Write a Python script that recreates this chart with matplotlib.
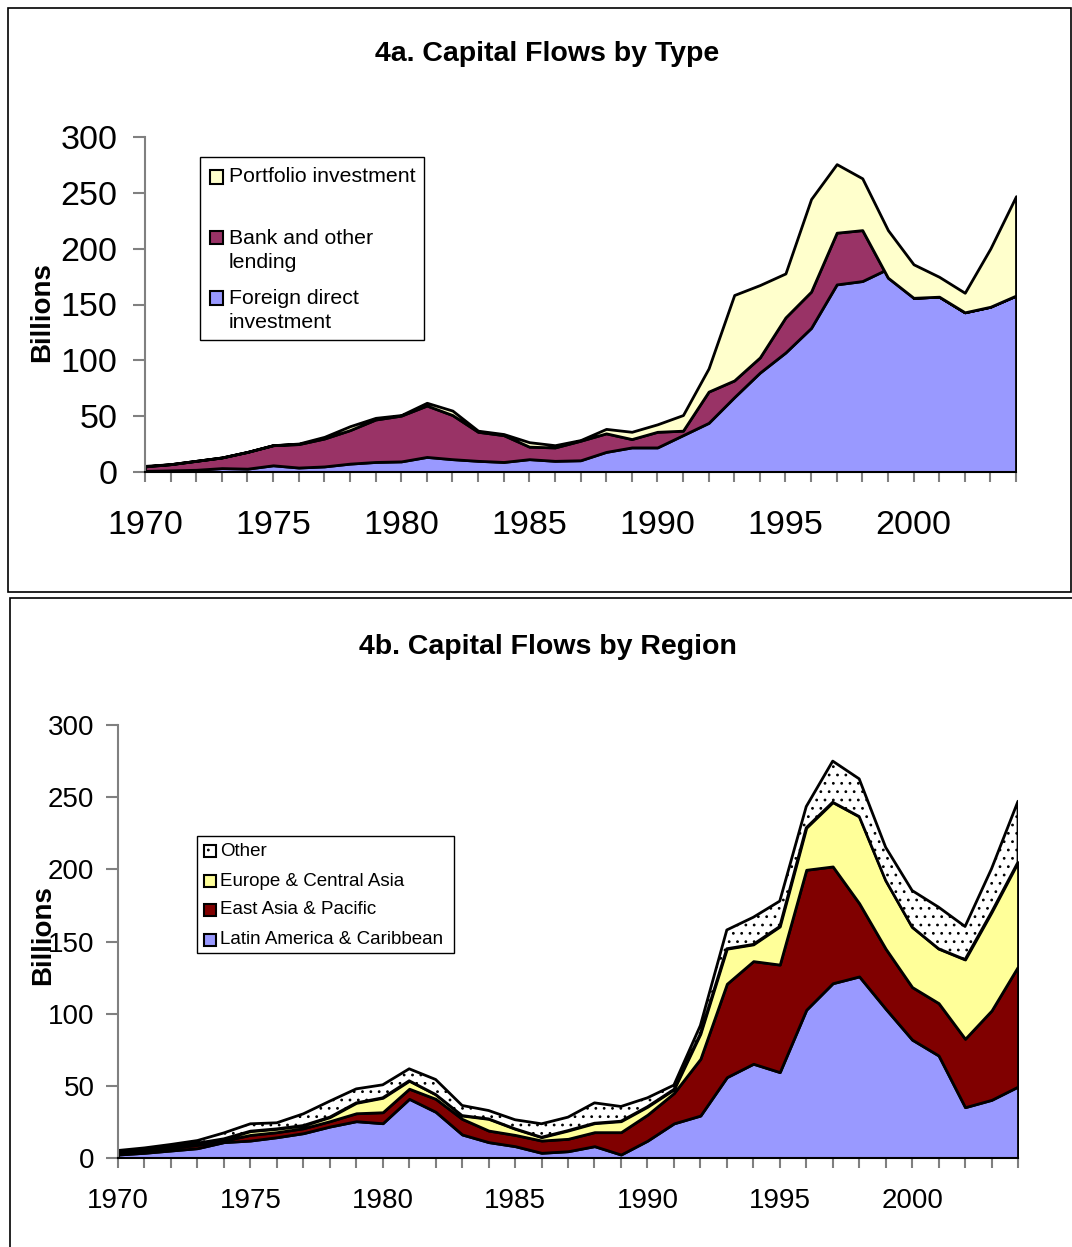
import matplotlib
matplotlib.use('Agg')
import matplotlib.pyplot as plt
from matplotlib.patches import Rectangle
from matplotlib.ticker import MultipleLocator

plt.rcParams['font.family'] = ['Liberation Sans', 'DejaVu Sans']
plt.rcParams['hatch.linewidth'] = 0.8

years = list(range(1970, 2005))

# 4a - capital flows by type, billions
fdi = [1, 1.5, 2, 3.5, 3, 6, 4, 5, 7.5, 9, 9.5, 13.5, 11.5, 10, 9, 11.5, 10, 10.5, 18, 22,
       22, 33, 44, 67, 89, 107, 129, 168, 171, 182, 156, 157, 143, 148, 158]
bank = [4, 5.5, 8, 9.5, 15, 18, 21, 25, 30, 38, 41, 46, 39.5, 26, 24, 11.2, 12, 17.5, 16.6, 7.5,
        14, 4, 28, 15, 13.6, 31.4, 32.5, 46.3, 45.6, -8, 0, 0, 0, 0, 0]
portfolio = [0.5, 0, 0, 0, 0, 0, 0.5, 1.5, 3.5, 1.5, 0.5, 2.5, 4, 1, 1, 4, 2, 0.6, 4, 6.5,
             6.7, 14, 20.8, 76.5, 64.8, 39.4, 82.9, 61.4, 46.4, 42.6, 30, 17.8, 17.5, 52.2, 89]

# 4b - capital flows by region, billions
latam = [2.4, 3.6, 5.2, 6.8, 11, 12.1, 14.4, 17.2, 21.8, 25.5, 24.1, 41, 32, 16.3, 11, 8.2, 3.6, 4.7, 8.2, 2.4,
         12, 24, 29.4, 56, 65.3, 59.5, 102.7, 121.1, 125.8, 103.4, 82, 71, 35.2, 40.3, 49.5]
east_asia = [1.2, 1.6, 1.8, 2.3, 1.1, 3.9, 3.5, 3.4, 3.7, 5.5, 7.6, 7, 9, 10.8, 8, 7.8, 8.5, 8.6, 9.7, 15.5,
             18, 21, 39.3, 64.7, 71.1, 74.5, 97, 80.9, 50.7, 41.6, 36.4, 36.3, 47.4, 61.9, 83.2]
europe = [0.4, 0.7, 1.2, 1.2, 1.2, 2.6, 2.3, 1.9, 2.8, 7.2, 10, 5.5, 3, 2.3, 8.1, 4.2, 2.3, 5.7, 6.2, 7.6,
          5.5, 2.5, 17.3, 24.3, 11.6, 26.4, 29.1, 44.5, 60.1, 47.3, 41.6, 37.7, 54.9, 68.1, 72.3]
other = [1.2, 1.1, 1.2, 1.8, 4.1, 5.1, 4.2, 8.1, 11.1, 9.7, 9, 8.3, 10.4, 7, 5.8, 6.3, 9.3, 9.3, 14.1, 10.2,
         6.2, 3, 5.8, 13, 18.8, 17.6, 14.7, 28.5, 26.1, 23, 25.3, 28.8, 22.9, 30.1, 42.2]

type_colors = ['#9999FF', '#993366', '#FFFFCC']
region_colors = ['#9999FF', '#800000', '#FFFF99', '#FFFFFF']

W, H = 1072, 1247
fig = plt.figure(figsize=(W / 100, H / 100), dpi=100)


def fx(x):
    return x / W


def fy(y):
    return 1 - y / H


def frame(x0, y0, x1, y1, lw=1.2, color='black'):
    fig.add_artist(Rectangle((fx(x0), fy(y1)), fx(x1) - fx(x0), fy(y0) - fy(y1),
                             transform=fig.transFigure, fill=False, edgecolor=color, lw=lw))


def style_axis(ax, size, ypad, xpad):
    ax.set_xlim(1970, 2004)
    ax.set_ylim(0, 300)
    ax.yaxis.set_major_locator(MultipleLocator(50))
    ax.xaxis.set_major_locator(MultipleLocator(5))
    ax.xaxis.set_minor_locator(MultipleLocator(1))
    for s in ['top', 'right']:
        ax.spines[s].set_visible(False)
    ax.spines['left'].set_color('#808080')
    ax.spines['left'].set_linewidth(1.5)
    ax.spines['bottom'].set_color('black')
    ax.spines['bottom'].set_linewidth(1.5)
    ax.tick_params(axis='y', length=9, width=1.5, color='#808080', pad=ypad, labelsize=size)
    ax.tick_params(axis='x', which='both', length=7, width=1.5, color='#808080', pad=xpad, labelsize=size)


def legend(box, items, size, sq):
    frame(*box, lw=1.0)
    for color, hatch, cx, cy, tx, lines, step in items:
        fig.add_artist(Rectangle((fx(cx - sq / 2), fy(cy + sq / 2)), sq / W, sq / H,
                                 transform=fig.transFigure, facecolor=color, edgecolor='black',
                                 lw=1.5, hatch=hatch))
        for i, line in enumerate(lines):
            fig.text(fx(tx), fy(cy + i * step), line, fontsize=size, ha='left', va='center')


# ---- panel a ----
frame(8, 8, 1071, 592)
ax1 = fig.add_axes([fx(145), fy(472), (1016 - 145) / W, (472 - 137) / H])
ax1.stackplot(years, fdi, bank, portfolio, colors=type_colors, edgecolor='black', linewidth=2)
style_axis(ax1, 24.5, 11, 20)
fig.text(fx(547), fy(54), '4a. Capital Flows by Type', fontsize=20.5, fontweight='bold',
         ha='center', va='center')
fig.text(fx(42), fy(312), 'Billions', fontsize=20, fontweight='bold', rotation=90,
         ha='center', va='center')
legend((200, 157, 424, 340),
       [(type_colors[2], None, 216.5, 177, 229, ['Portfolio investment'], 24.5),
        (type_colors[1], None, 216.5, 238, 229, ['Bank and other', 'lending'], 24.5),
        (type_colors[0], None, 216.5, 298, 229, ['Foreign direct', 'investment'], 24.5)],
       15.3, 13)

# ---- panel b ----
frame(10, 598, 1080, 1260)
ax2 = fig.add_axes([fx(118), fy(1158), (1018 - 118) / W, (1158 - 725) / H])
ax2.stackplot(years, latam, east_asia, europe, other, colors=region_colors,
              edgecolor='black', linewidth=2, hatch=[None, None, None, '..'])
style_axis(ax2, 20, 8, 14.5)
fig.text(fx(548), fy(647), '4b. Capital Flows by Region', fontsize=20.5, fontweight='bold',
         ha='center', va='center')
fig.text(fx(43), fy(935), 'Billions', fontsize=20, fontweight='bold', rotation=90,
         ha='center', va='center')
legend((197, 836, 454, 953),
       [(region_colors[3], '..', 209.5, 851, 220, ['Other'], 0),
        (region_colors[2], None, 209.5, 881, 220, ['Europe & Central Asia'], 0),
        (region_colors[1], None, 209.5, 910, 220, ['East Asia & Pacific'], 0),
        (region_colors[0], None, 209.5, 940, 220, ['Latin America & Caribbean'], 0)],
       13.5, 12)

fig.savefig('out.png', dpi=100)
